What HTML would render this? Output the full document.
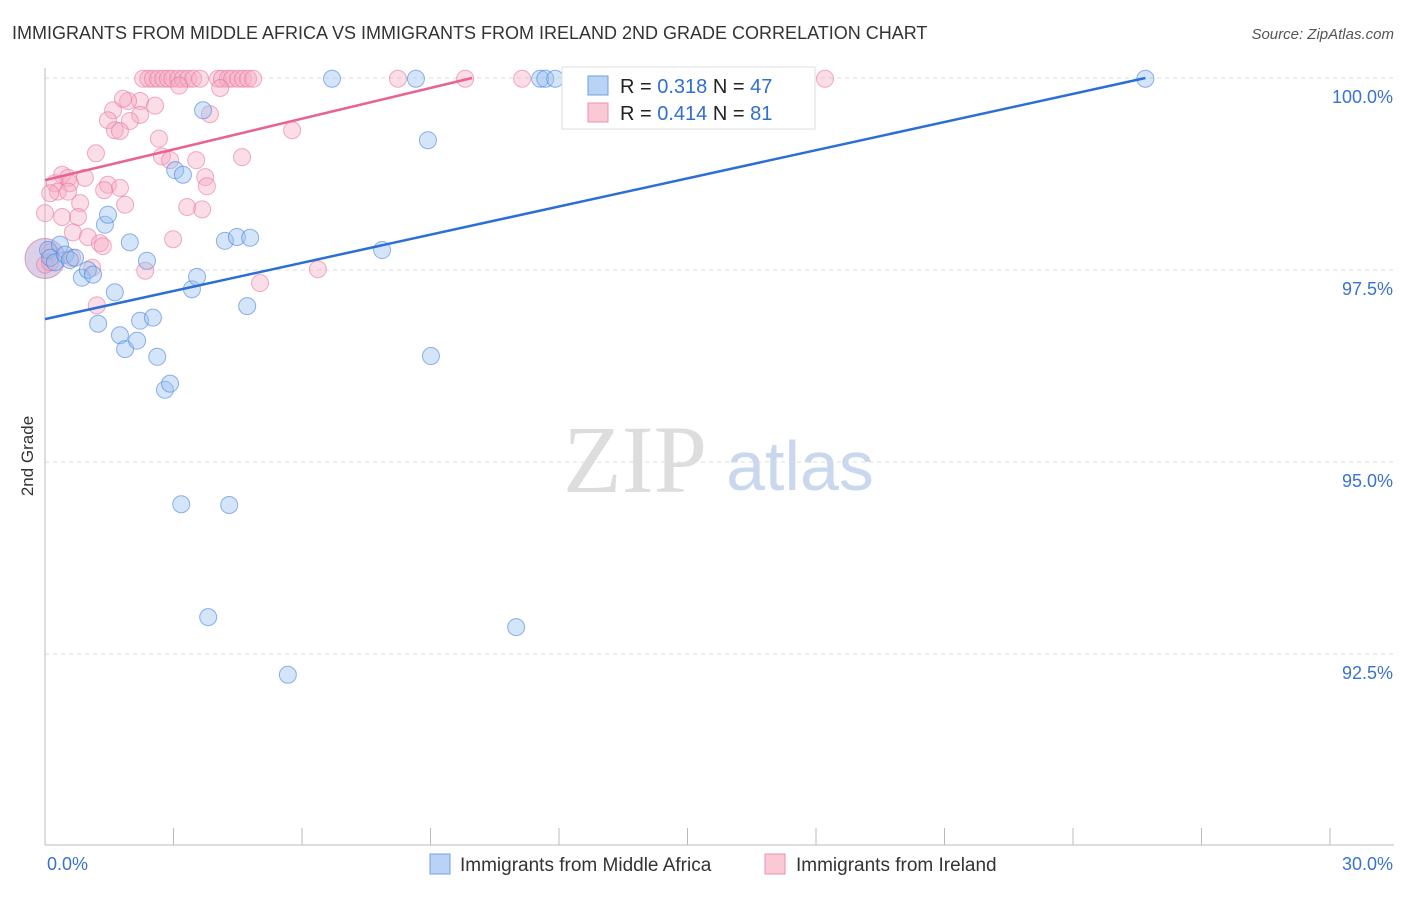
<!DOCTYPE html>
<html><head><meta charset="utf-8"><style>
body{margin:0;background:#fff;font-family:"Liberation Sans",sans-serif}
svg text{font-family:"Liberation Sans",sans-serif}
</style></head><body>
<svg id="c" width="1406" height="892">
<text x="12" y="39" font-size="18" fill="#333">IMMIGRANTS FROM MIDDLE AFRICA VS IMMIGRANTS FROM IRELAND 2ND GRADE CORRELATION CHART</text>
<text x="1394" y="39" font-size="15" fill="#555" text-anchor="end" font-style="italic">Source: ZipAtlas.com</text>
<text x="33" y="456" font-size="17" fill="#333" text-anchor="middle" transform="rotate(-90 33 456)">2nd Grade</text>
<text x="635" y="492" font-size="96" fill="#ddd" font-family="Liberation Serif" text-anchor="middle" style="font-family:'Liberation Serif',serif">ZIP</text>
<text x="800" y="490" font-size="70" fill="#c9d8ee" text-anchor="middle">atlas</text>
<g id="grid"></g><g id="axes"></g><g id="pts"></g><g id="lines"></g>
<g>
<rect x="562" y="67" width="253" height="62" fill="#fff" stroke="#ddd"/>
<rect x="588" y="76" width="20" height="19" fill="#b8d3f5" stroke="#6fa0e0"/>
<rect x="588" y="103" width="20" height="19" fill="#fbc8d6" stroke="#ec8fab"/>
<text x="620" y="93" font-size="20" fill="#222">R = <tspan fill="#2f6fd0">0.318</tspan>   N = <tspan fill="#2f6fd0">47</tspan></text>
<text x="620" y="120" font-size="20" fill="#222">R = <tspan fill="#2f6fd0">0.414</tspan>   N = <tspan fill="#2f6fd0"> 81</tspan></text>
</g>
<g>
<rect x="430" y="854" width="20" height="20" fill="#b8d3f5" stroke="#6fa0e0"/>
<text x="460" y="871" font-size="19" fill="#333">Immigrants from Middle Africa</text>
<rect x="765" y="854" width="20" height="20" fill="#fbc8d6" stroke="#ec8fab"/>
<text x="796" y="871" font-size="19" fill="#333">Immigrants from Ireland</text>
</g>
</svg>
<script>
const yTicks=[100,97.5,95,92.5];
const yTickLabels=["100.0%","97.5%","95.0%","92.5%"];
const xTickLabels=["0.0%","30.0%"];
const blueX=[0.07,0.12,0.23,0.35,0.47,0.58,0.70,0.86,1.00,1.12,1.24,1.40,1.47,1.63,1.75,1.87,1.98,2.15,2.22,2.38,2.52,2.62,2.80,2.92,3.04,3.22,3.43,3.55,3.69,3.81,4.20,4.30,4.48,4.72,4.79,3.18,5.67,6.70,7.87,8.66,8.94,9.01,11.00,11.56,11.68,11.91,25.69];
const blueY=[97.76,97.66,97.60,97.83,97.70,97.63,97.66,97.40,97.50,97.44,96.80,98.09,98.22,97.21,96.65,96.47,97.86,96.58,96.84,97.62,96.88,96.37,95.94,96.02,98.80,98.74,97.25,97.41,99.58,92.98,97.88,94.44,97.93,97.03,97.92,94.45,92.23,99.99,97.76,99.99,99.19,96.38,92.85,99.99,99.99,99.99,99.99];
const pinkX=[2.29,2.41,2.52,2.64,2.76,2.87,2.97,3.11,3.22,3.34,3.46,3.62,4.04,4.13,4.27,4.37,4.51,4.62,4.74,4.86,8.24,9.81,11.14,18.21,3.13,4.09,2.22,1.94,1.59,1.82,2.57,2.22,3.85,1.47,1.98,1.63,1.75,5.77,2.66,1.19,4.60,2.73,2.92,3.53,0.40,0.54,0.93,3.74,0.23,0.58,1.47,1.75,3.78,1.38,0.30,0.12,0.54,1.87,0.82,3.32,3.67,0,0.40,0.77,1.00,0.65,1.28,1.35,2.99,0.12,0.63,1.10,2.34,6.37,5.02,1.21,0,0.12];
const pinkY=[99.99,99.99,99.99,99.99,99.99,99.99,99.99,99.99,99.99,99.99,99.99,99.99,99.99,99.99,99.99,99.99,99.99,99.99,99.99,99.99,99.99,99.99,99.99,99.99,99.90,99.87,99.70,99.70,99.58,99.73,99.64,99.52,99.53,99.45,99.44,99.32,99.31,99.32,99.21,99.02,98.97,98.98,98.93,98.93,98.74,98.70,98.70,98.71,98.63,98.63,98.61,98.57,98.59,98.54,98.52,98.50,98.52,98.35,98.37,98.32,98.29,98.24,98.19,98.19,97.93,97.99,97.85,97.81,97.90,97.73,97.66,97.53,97.49,97.51,97.33,97.04,97.57,97.60];
const blueTrendX=[0,25.69], blueTrendY=[96.86,100];
const pinkTrendX=[0,9.97], pinkTrendY=[98.67,100];
const NS="http://www.w3.org/2000/svg";
const X0=45,X1=1330,XMAX=30,Y100=78,PX=76.8;
const sx=v=>X0+v/XMAX*(X1-X0);
const sy=v=>Y100+(100-v)*PX;
function mk(t,a,p){const e=document.createElementNS(NS,t);for(const k in a)e.setAttribute(k,a[k]);p.appendChild(e);return e;}
const grid=document.getElementById('grid'),axes=document.getElementById('axes'),pts=document.getElementById('pts'),lines=document.getElementById('lines');
yTicks.forEach((t,i)=>{
 const l=mk('line',{x1:X0,x2:1394,y1:sy(t),y2:sy(t),stroke:'#ddd','stroke-dasharray':'4 4'},grid);
 
 
 const tx=mk('text',{x:1393,y:sy(t)+25,'font-size':18,fill:'#3a72cf','text-anchor':'end'},axes);
 tx.textContent=yTickLabels[i];
 
 
});
const ax=mk('line',{x1:X0,x2:X0,y1:68,y2:845,stroke:'#bbb'},axes);


const bx=mk('line',{x1:X0,x2:1394,y1:845,y2:845,stroke:'#bbb'},axes);


for(let i=0;i<=10;i++){const x=X0+i*(X1-X0)/10;const t=mk('line',{x1:x,x2:x,y1:828,y2:845,stroke:'#bbb'},axes);
 
 }
[[X0+2,'start'],[1393,'end']].forEach((p,i)=>{const t=mk('text',{x:p[0],y:870,'font-size':18,fill:'#3a72cf','text-anchor':p[1]},axes);t.textContent=xTickLabels[i];
 
 });
const big=mk('circle',{cx:sx(0),cy:sy(97.65),r:20,fill:'rgba(150,120,190,0.35)',stroke:'rgba(200,110,160,0.6)'},pts);


pinkX.forEach((v,i)=>{const c=mk('circle',{cx:sx(v),cy:sy(pinkY[i]),r:8.5,fill:'rgba(246,170,195,0.4)',stroke:'rgba(232,120,155,0.6)'},pts);
 
 });
blueX.forEach((v,i)=>{const c=mk('circle',{cx:sx(v),cy:sy(blueY[i]),r:8.5,fill:'rgba(150,190,240,0.4)',stroke:'rgba(70,130,220,0.6)'},pts);
 
 });
const bl=mk('line',{x1:sx(blueTrendX[0]),y1:sy(blueTrendY[0]),x2:sx(blueTrendX[1]),y2:sy(blueTrendY[1]),stroke:'#2b6fd6','stroke-width':2.5},lines);


const pl=mk('line',{x1:sx(pinkTrendX[0]),y1:sy(pinkTrendY[0]),x2:sx(pinkTrendX[1]),y2:sy(pinkTrendY[1]),stroke:'#e8648e','stroke-width':2.5},lines);


</script>
</body></html>
